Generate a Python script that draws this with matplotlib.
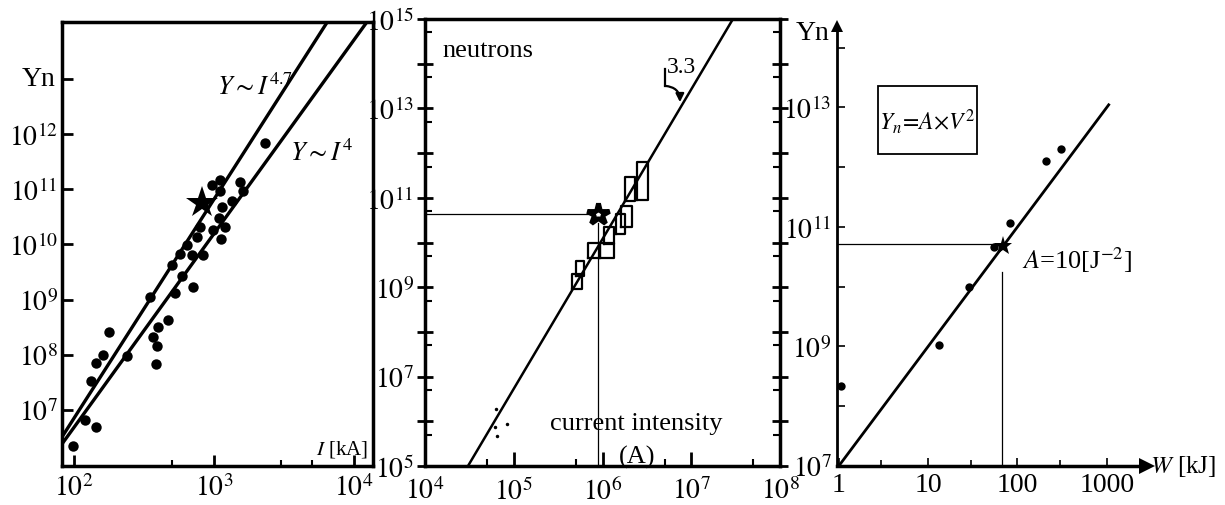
import matplotlib
matplotlib.use('Agg')
import matplotlib.pyplot as plt
from matplotlib.ticker import FixedLocator, FixedFormatter, NullFormatter
from matplotlib.patches import Rectangle

plt.rcParams['font.family'] = ['Liberation Serif', 'DejaVu Serif']
plt.rcParams['mathtext.fontset'] = 'stix'

# ---------------- Panel 1 data: yield vs current [kA] ----------------
p1_current = [2313, 1104, 963, 1534, 1104, 1603, 1337, 1135, 1091, 794, 1198, 979,
              1117, 752, 638, 571, 693, 839, 499, 594, 705, 526, 349, 472, 400,
              368, 390, 384, 179, 162, 144, 238, 132, 120, 144, 99]
p1_yield = [6.8e11, 1.47e11, 1.19e11, 1.33e11, 9.4e10, 9.4e10, 6.2e10, 4.7e10,
            2.97e10, 2.09e10, 2.09e10, 1.82e10, 1.25e10, 1.38e10, 9.9e9, 6.7e9,
            6.5e9, 6.4e9, 4.3e9, 2.7e9, 1.71e9, 1.3e9, 1.13e9, 4.3e8, 3.15e8,
            2.13e8, 1.46e8, 6.8e7, 2.56e8, 9.9e7, 7.0e7, 9.4e7, 3.3e7, 6.6e6,
            4.9e6, 2.25e6]
p1_star_I = [817]
p1_star_Y = [5.6e10]
p1_fit47_I = [82, 6450]
p1_fit47_Y = [3.24e6, 1.07e14]
p1_fit4_I = [82, 12380]
p1_fit4_Y = [2.42e6, 1.07e14]
p1_xticks = [1e2, 1e3, 1e4]
p1_xticklabels = [r'$10^{2}$', r'$10^{3}$', r'$10^{4}$']
p1_yticks = [1e7, 1e8, 1e9, 1e10, 1e11, 1e12, 1e13]
p1_yticklabels = [r'$10^{7}$', r'$10^{8}$', r'$10^{9}$', r'$10^{10}$',
                  r'$10^{11}$', r'$10^{12}$', '']

# ---------------- Panel 2 data: neutrons vs current intensity (A) ----------------
p2_box_x_lo = [4.5e5, 5.0e5, 6.8e5, 9.4e5, 1.05e6, 1.42e6, 1.60e6, 1.81e6, 2.43e6]
p2_box_x_hi = [5.83e5, 6.2e5, 9.4e5, 1.36e6, 1.35e6, 1.80e6, 2.13e6, 2.32e6, 3.28e6]
p2_box_y_lo = [9.1e8, 1.8e9, 4.4e9, 4.4e9, 9.3e9, 1.55e10, 2.2e10, 8.7e10, 9.1e10]
p2_box_y_hi = [1.97e9, 3.9e9, 9.7e9, 9.7e9, 2.2e10, 4.4e10, 6.5e10, 2.9e11, 6.2e11]
p2_dots_I = [6.3e4, 6.15e4, 6.4e4, 8.5e4]
p2_dots_Y = [1.88e6, 7.4e5, 4.8e5, 8.7e5]
p2_fit_I = [3.05e4, 2.95e7]
p2_fit_Y = [1e5, 1e15]
p2_star_I = [8.9e5]
p2_star_Y = [4.4e10]
p2_xticks = [1e4, 1e5, 1e6, 1e7, 1e8]
p2_xticklabels = [r'$10^{4}$', r'$10^{5}$', r'$10^{6}$', r'$10^{7}$', r'$10^{8}$']
p2_yticks = [1e5, 1e6, 1e7, 1e8, 1e9, 1e10, 1e11, 1e12, 1e13, 1e14, 1e15]
p2_yticklabels = [r'$10^{5}$', '', r'$10^{7}$', '', r'$10^{9}$', '', r'$10^{11}$',
                  '', r'$10^{13}$', '', r'$10^{15}$']

# ---------------- Panel 3 data: yield vs energy W [kJ] ----------------
p3_W = [1.05, 13.4, 29, 54, 83, 209, 309]
p3_Y = [2.2e8, 1.05e9, 9.8e9, 4.6e10, 1.15e11, 1.26e12, 2.0e12]
p3_star_W = [69]
p3_star_Y = [4.8e10]
p3_fit_W = [1, 1050]
p3_fit_Y = [1e7, 1.1e13]
p3_xticks = [1, 10, 100, 1000]
p3_xticklabels = ['1', '10', '100', '1000']
p3_yticks = [1e7, 1e8, 1e9, 1e10, 1e11, 1e12, 1e13, 1e14]
p3_yticklabels = [r'$10^{7}$', '', r'$10^{9}$', '', r'$10^{11}$', '', r'$10^{13}$', '']

TICK_FS = 20

fig = plt.figure(figsize=(12.25, 5.06), dpi=100)
W, H = 1225.0, 506.0


def axes_px(left, right, top, bottom):
    return fig.add_axes([left / W, (H - bottom) / H, (right - left) / W, (bottom - top) / H])


# ======== Panel 1 ========
ax1 = axes_px(62, 373, 23, 467)
ax1.set_xscale('log')
ax1.set_yscale('log')
ax1.set_xlim(82, 13680)
ax1.set_ylim(9.66e5, 1.07e14)
ax1.plot(p1_fit47_I, p1_fit47_Y, color='black', lw=2.4, solid_capstyle='butt')
ax1.plot(p1_fit4_I, p1_fit4_Y, color='black', lw=2.4, solid_capstyle='butt')
ax1.plot(p1_current, p1_yield, 'o', color='black', ms=7.5, mew=0)
ax1.plot(p1_star_I, p1_star_Y, '*', color='black', ms=24, mew=0)
for s in ax1.spines.values():
    s.set_linewidth(2.5)
ax1.xaxis.set_major_locator(FixedLocator(p1_xticks))
ax1.xaxis.set_major_formatter(FixedFormatter(p1_xticklabels))
ax1.xaxis.set_minor_locator(FixedLocator([500, 3000, 5000]))
ax1.xaxis.set_minor_formatter(NullFormatter())
ax1.yaxis.set_major_locator(FixedLocator(p1_yticks))
ax1.yaxis.set_major_formatter(FixedFormatter(p1_yticklabels))
ax1.yaxis.set_minor_locator(FixedLocator([]))
ax1.tick_params(which='major', direction='in', length=8, width=2, labelsize=TICK_FS, pad=3)
ax1.tick_params(which='minor', direction='in', length=4, width=1.5)
ax1.tick_params(axis='x', pad=6)
ax1.text(-0.022, 0.872, 'Yn', transform=ax1.transAxes, fontsize=20, ha='right', va='center')
ax1.text(1050, 7.4e12, r'$Y{\sim}I^{4.7}$', fontsize=19, ha='left', va='center')
ax1.text(3500, 4.7e11, r'$Y{\sim}I^{4}$', fontsize=19, ha='left', va='center')
ax1.text(0.985, 0.015, r'$I$ [kA]', transform=ax1.transAxes, fontsize=15, ha='right', va='bottom')

# ======== Panel 2 ========
ax2 = axes_px(425, 780, 20, 467)
ax2.set_xscale('log')
ax2.set_yscale('log')
ax2.set_xlim(1e4, 1e8)
ax2.set_ylim(1e5, 1e15)
ax2.plot(p2_fit_I, p2_fit_Y, color='black', lw=1.8)
for xl, xh, yl, yh in zip(p2_box_x_lo, p2_box_x_hi, p2_box_y_lo, p2_box_y_hi):
    ax2.plot([xl, xh, xh, xl, xl], [yl, yl, yh, yh, yl], color='black', lw=1.6)
ax2.plot(p2_dots_I, p2_dots_Y, 'o', color='black', ms=2.5, mew=0)
# reference lines to the star
ax2.plot([1e4, p2_star_I[0] * 0.85], [p2_star_Y[0], p2_star_Y[0]], color='black', lw=0.9)
ax2.plot([p2_star_I[0], p2_star_I[0]], [1e5, p2_star_Y[0] * 0.62], color='black', lw=0.9)
ax2.plot(p2_star_I, p2_star_Y, '*', color='black', mfc='white', ms=16, mew=3.5)
for s in ax2.spines.values():
    s.set_linewidth(2.5)
ax2.xaxis.set_major_locator(FixedLocator(p2_xticks))
ax2.xaxis.set_major_formatter(FixedFormatter(p2_xticklabels))
ax2.xaxis.set_minor_locator(FixedLocator([5e4, 5e5, 5e6, 5e7]))
ax2.xaxis.set_minor_formatter(NullFormatter())
ax2.yaxis.set_major_locator(FixedLocator(p2_yticks))
ax2.yaxis.set_major_formatter(FixedFormatter(p2_yticklabels))
ax2.yaxis.set_minor_locator(FixedLocator([5 * 10.0 ** k for k in range(5, 15)]))
ax2.yaxis.set_minor_formatter(NullFormatter())
ax2.tick_params(which='major', direction='inout', length=12, width=2, labelsize=TICK_FS,
                right=True, pad=2)
ax2.tick_params(which='minor', direction='in', length=5, width=1.5, right=True)
ax2.tick_params(axis='x', which='major', direction='in', length=10, pad=8)
ax2.text(0.05, 0.93, 'neutrons', transform=ax2.transAxes, fontsize=19, ha='left', va='center')
ax2.text(2.39e6, 9.1e5, 'current intensity', fontsize=19, ha='center', va='center')
ax2.text(2.45e6, 1.66e5, '(A)', fontsize=19, ha='center', va='center')
# "3.3" slope annotation with bracket arrow
ax2.text(5.33e6, 8.5e13, '3.3', fontsize=17, ha='left', va='center')
ax2.plot([5.06e6, 5.06e6], [7.6e13, 3.2e13], color='black', lw=1.6)
ax2.annotate('', xy=(7.46e6, 1.38e13), xytext=(5.06e6, 3.2e13),
             arrowprops=dict(arrowstyle='-|>', color='black', lw=1.6, shrinkA=0, shrinkB=0,
                             connectionstyle='arc3,rad=-0.45', mutation_scale=12))

# ======== Panel 3 ========
ax3 = axes_px(837, 1147, 27, 467)
ax3.set_xscale('log')
ax3.set_yscale('log')
ax3.set_xlim(0.955, 2818)
ax3.set_ylim(1e7, 2.29e14)
ax3.spines['top'].set_visible(False)
ax3.spines['right'].set_visible(False)
ax3.spines['left'].set_linewidth(2)
ax3.spines['bottom'].set_linewidth(2.5)
ax3.plot(p3_fit_W, p3_fit_Y, color='black', lw=2)
# reference lines to the star
ax3.plot([0.955, p3_star_W[0] * 0.88], [p3_star_Y[0] * 1.06, p3_star_Y[0] * 1.06], color='black', lw=0.9)
ax3.plot([p3_star_W[0] * 0.97, p3_star_W[0] * 0.97], [1e7, p3_star_Y[0] * 0.36], color='black', lw=0.9)
ax3.plot(p3_W, p3_Y, 'o', color='black', ms=6, mew=0)
ax3.plot(p3_star_W, p3_star_Y, '*', color='black', ms=14, mew=0)
ax3.plot([1], [0], '>', color='black', ms=11, mew=0, transform=ax3.transAxes, clip_on=False)
ax3.plot([0], [1], '^', color='black', ms=9, mew=0, transform=ax3.transAxes, clip_on=False)
ax3.xaxis.set_major_locator(FixedLocator(p3_xticks))
ax3.xaxis.set_major_formatter(FixedFormatter(p3_xticklabels))
ax3.xaxis.set_minor_locator(FixedLocator([3, 30, 300]))
ax3.xaxis.set_minor_formatter(NullFormatter())
ax3.yaxis.set_major_locator(FixedLocator(p3_yticks))
ax3.yaxis.set_major_formatter(FixedFormatter(p3_yticklabels))
ax3.yaxis.set_minor_locator(FixedLocator([]))
ax3.tick_params(which='major', direction='in', length=6, width=1.2, labelsize=TICK_FS, pad=4)
ax3.tick_params(which='minor', direction='in', length=4, width=1.2)
ax3.text(-0.08, 0.985, 'Yn', transform=ax3.transAxes, fontsize=20, ha='center', va='center')
ax3.text(1.01, 0.0, r'$W$ [kJ]', transform=ax3.transAxes, fontsize=18, ha='left', va='center')
ax3.text(112, 2.9e10, r'$A$=10[J$^{-2}$]', fontsize=19, ha='left', va='center')
ax3.add_patch(Rectangle((0.132, 0.709), 0.32, 0.155, transform=ax3.transAxes,
                        fill=False, edgecolor='black', lw=1.3))
ax3.text(0.292, 0.786, r'$Y_n\!=\!A{\times}V^2$', transform=ax3.transAxes, fontsize=17,
         ha='center', va='center')

fig.savefig('out.png', dpi=100)
